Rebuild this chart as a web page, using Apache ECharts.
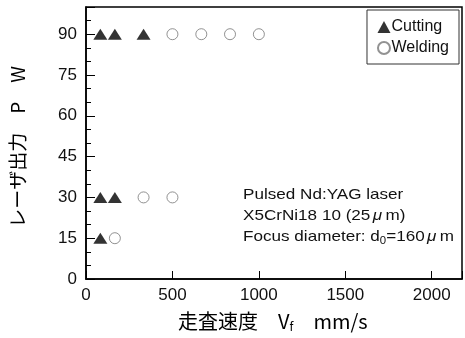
<!DOCTYPE html>
<html>
<head>
<meta charset="utf-8">
<script src="https://cdn.jsdelivr.net/npm/echarts@6/dist/echarts.min.js"></script>
<style>html,body{margin:0;padding:0;background:#fff}#c{width:465px;height:338px}</style>
</head>
<body>
<div id="c"></div>
<script>
var seriesNames = ['Cutting', 'Welding'];
var cuttingSpeed = [83, 167, 333, 83, 167, 83];
var cuttingPower = [90, 90, 90, 30, 30, 15];
var weldingSpeed = [500, 667, 833, 1000, 333, 500, 167];
var weldingPower = [90, 90, 90, 90, 30, 30, 15];
var xTicks = [0, 500, 1000, 1500, 2000];
var yTicks = [0, 15, 30, 45, 60, 75, 90];

function pairs(xs, ys) { return xs.map(function (x, i) { return [x, ys[i]]; }); }

var chart = echarts.init(document.getElementById('c'), null, {renderer: 'canvas'});
var font = 'Liberation Sans, Arial, sans-serif';
var cjk = '"Noto Sans CJK JP", sans-serif';
chart.setOption({
  animation: false,
  backgroundColor: '#fff',
  grid: {left: 86, right: 1, top: 7, bottom: 59, show: true, borderColor: '#000', borderWidth: 1.5},
  legend: {
    orient: 'vertical', right: 6, top: 10,
    borderColor: '#333', borderWidth: 1, padding: [8, 10, 7, 10],
    itemWidth: 13, itemHeight: 12, itemGap: 3,
    textStyle: {fontFamily: font, fontSize: 16, lineHeight: 18, color: '#111', padding: [0, 0, 0, -4]},
    data: seriesNames
  },
  xAxis: {
    type: 'value', min: 0, max: 2175, interval: 500,
    axisLine: {lineStyle: {color: '#000', width: 1.5}},
    axisTick: {inside: true, length: 8, lineStyle: {color: '#000'}},
    axisLabel: {
      margin: 8, fontFamily: font, fontSize: 17, color: '#111',
      formatter: function (v) { return xTicks.indexOf(v) >= 0 ? String(v) : ''; }
    },
    splitLine: {show: false}
  },
  yAxis: [{
    type: 'value', min: 0, max: 100, interval: 15,
    axisLine: {lineStyle: {color: '#000', width: 1.5}},
    axisTick: {inside: true, length: 9, lineStyle: {color: '#000'}},
    axisLabel: {
      margin: 9, fontFamily: font, fontSize: 17, color: '#111',
      formatter: function (v) { return yTicks.indexOf(v) >= 0 ? String(v) : ''; }
    },
    splitLine: {show: false}
  }, {
    type: 'value', min: 0, max: 100, interval: 5, position: 'left',
    axisLine: {show: false},
    axisTick: {inside: true, length: 5, lineStyle: {color: '#000'}},
    axisLabel: {show: false},
    splitLine: {show: false}
  }],
  series: [{
    name: seriesNames[0], type: 'scatter', symbol: 'triangle', symbolSize: [14, 11],
    itemStyle: {color: '#000'}, data: pairs(cuttingSpeed, cuttingPower), z: 5
  }, {
    name: seriesNames[1], type: 'scatter', symbol: 'circle', symbolSize: 11,
    itemStyle: {color: '#fff', borderColor: '#777', borderWidth: 1},
    data: pairs(weldingSpeed, weldingPower), z: 5
  }],
  graphic: [{
    type: 'text', x: 243, y: 184, scaleX: 1.14, scaleY: 1,
    style: {
      x: 0, y: 0, verticalAlign: 'top', align: 'left',
      text: 'Pulsed Nd:YAG laser\nX5CrNi18 10 (25{mu|μ}m)\nFocus diameter: d{sub|0}=160{mu|μ}m',
      fontFamily: font, fontSize: 15, lineHeight: 21, fill: '#111',
      rich: {
        mu: {fontFamily: font, fontStyle: 'italic', fontSize: 15, padding: [0, 3, 0, 2], fill: '#111'},
        sub: {fontFamily: font, fontSize: 10, padding: [10, 0, 0, 0], fill: '#111'}
      }
    }
  }, {
    type: 'text', x: 178, y: 310,
    style: {
      x: 0, y: 0, verticalAlign: 'top',
      text: '走査速度　V{sub|f}　mm/s',
      fontFamily: cjk, fontSize: 20, fill: '#000',
      rich: {sub: {fontFamily: cjk, fontSize: 12, padding: [10, 0, 0, 0], fill: '#000'}}
    }
  }, {
    type: 'text', x: 18, y: 147, rotation: Math.PI / 2,
    style: {
      text: 'レーザ出力　P　W', fontFamily: cjk, fontSize: 19, fill: '#000',
      align: 'center', verticalAlign: 'middle'
    }
  }]
});
</script>
</body>
</html>
